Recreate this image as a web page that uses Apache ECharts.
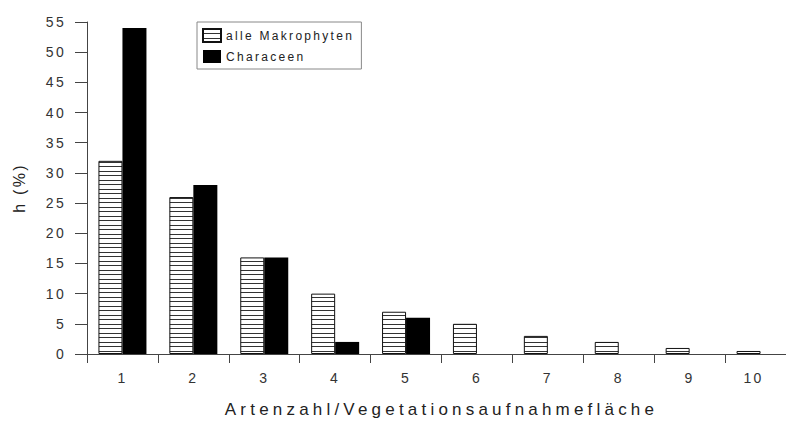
<!DOCTYPE html>
<html>
<head>
<meta charset="utf-8">
<script src="https://cdn.jsdelivr.net/npm/echarts@6/dist/echarts.min.js"></script>
<style>
  html, body { margin: 0; padding: 0; background: #fff; }
  #chart { width: 786px; height: 421px; }
  #chart svg text { letter-spacing: 2.3px; }
  #chart svg text[style*="17px"] { letter-spacing: 4.2px; }
</style>
</head>
<body>
<div id="chart"></div>
<script>
const categories = ['1', '2', '3', '4', '5', '6', '7', '8', '9', '10'];
const alleMakrophyten = [32, 26, 16, 10, 7, 5, 3, 2, 1, 0.5];
const characeen = [54, 28, 16, 2, 6, 0, 0, 0, 0, 0];
const seriesNames = ['alle Makrophyten', 'Characeen'];
const yTicks = { min: 0, max: 55, interval: 5 };
const xTitle = 'Artenzahl/Vegetationsaufnahmefläche';
const yTitle = 'h (%)';

// horizontal hatch pattern
const pc = document.createElement('canvas');
pc.width = 4; pc.height = 9;
const pctx = pc.getContext('2d');
pctx.fillStyle = '#fff';
pctx.fillRect(0, 0, 4, 9);
pctx.fillStyle = '#333';
pctx.fillRect(0, 0, 4, 1);
pctx.fillRect(0, 4, 4, 1);
const hatch = { image: pc.toDataURL(), repeat: 'repeat' };

const FONT = 'Liberation Sans, Arial, sans-serif';
const chart = echarts.init(document.getElementById('chart'), null, { renderer: 'svg' });
chart.setOption({
  animation: false,
  backgroundColor: '#fff',
  textStyle: { fontFamily: FONT },
  grid: { left: 87, top: 22, width: 709, height: 332, containLabel: false, outerBoundsMode: 'none' },
  legend: {
    orient: 'vertical',
    left: 197, top: 22,
    padding: [6, 44, 6, 5],
    itemGap: 7, itemWidth: 18, itemHeight: 13,
    icon: 'rect',
    borderColor: '#888', borderWidth: 1,
    textStyle: { fontSize: 12, color: '#222', fontFamily: FONT },
    data: seriesNames
  },
  xAxis: {
    type: 'category',
    data: categories,
    name: xTitle,
    nameLocation: 'middle',
    nameGap: 47,
    nameTextStyle: { fontSize: 17, color: '#222', fontFamily: FONT },
    axisLine: { lineStyle: { color: '#444', width: 1 } },
    axisTick: { show: true, length: 9, lineStyle: { color: '#444' } },
    axisLabel: {
      fontSize: 14, color: '#333', margin: 17, fontFamily: FONT,
      formatter: function (v) { return v === '10' ? '{s|' + v + '}' : v; },
      rich: { s: { fontSize: 14, color: '#333', fontFamily: FONT, padding: [0, 14, 0, 0] } }
    },
    splitLine: { show: false }
  },
  yAxis: {
    type: 'value',
    min: yTicks.min, max: yTicks.max, interval: yTicks.interval,
    name: yTitle,
    nameLocation: 'middle',
    nameGap: 60,
    nameTextStyle: { fontSize: 16, color: '#222', fontFamily: FONT },
    axisLine: { show: true, lineStyle: { color: '#444', width: 1 } },
    axisTick: { show: true, length: 12, lineStyle: { color: '#444' } },
    axisLabel: { fontSize: 14, color: '#333', margin: 21, fontFamily: FONT },
    splitLine: { show: false }
  },
  series: [
    {
      name: seriesNames[0], type: 'bar', data: alleMakrophyten,
      barWidth: 24, barGap: '0%',
      itemStyle: { color: hatch, borderColor: '#111', borderWidth: 1 }
    },
    {
      name: seriesNames[1], type: 'bar', data: characeen,
      barWidth: 24, barGap: '0%',
      itemStyle: { color: '#000', borderWidth: 0 }
    }
  ]
});
</script>
</body>
</html>
